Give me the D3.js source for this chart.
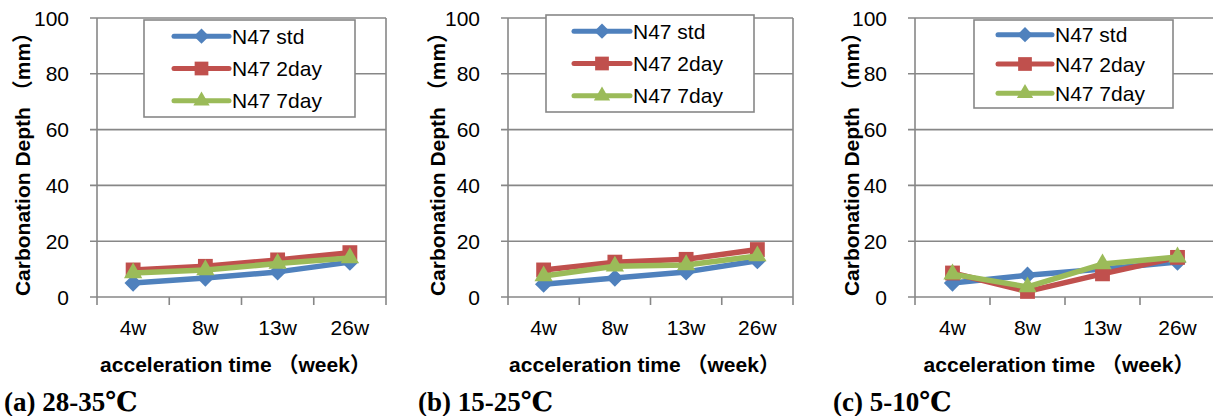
<!DOCTYPE html>
<html>
<head>
<meta charset="utf-8">
<script src="https://cdn.jsdelivr.net/npm/d3@7"></script>
<style>
  body { margin: 0; background: #fff; }
  svg { display: block; }
  text { font-family: "Liberation Sans", Arial, "Noto Sans CJK SC", sans-serif; }
  .cap { font-family: "Liberation Serif", "DejaVu Serif", "Times New Roman", serif; font-weight: bold; }
</style>
</head>
<body>
<div id="chart"></div>
<script>
const categories = ["4w", "8w", "13w", "26w"];
const seriesNames = ["N47 std", "N47 2day", "N47 7day"];
const yTicks = [0, 20, 40, 60, 80, 100];
const captions = ["(a) 28-35℃", "(b) 15-25℃", "(c) 5-10℃"];

// values (mm)
const a_std  = [5.0, 6.8, 9.0, 12.5];
const a_2day = [9.7, 11.0, 13.3, 15.9];
const a_7day = [8.6, 9.7, 12.0, 14.0];
const b_std  = [4.6, 6.8, 9.0, 13.0];
const b_2day = [9.7, 12.5, 13.5, 17.0];
const b_7day = [7.5, 11.0, 11.5, 14.7];
const c_std  = [5.0, 7.8, 10.0, 12.5];
const c_2day = [8.6, 2.0, 8.3, 14.2];
const c_7day = [8.2, 3.6, 11.8, 14.3];

const colors = ["#4F81BD", "#C0504D", "#9BBB59"];
const symbols = [d3.symbolDiamond2, d3.symbolSquare2, d3.symbolTriangle2];
const symSize = [190, 280, 240];
const legSize = [150, 240, 190];

// layout of the three panels
const panels = [
  { data: [a_std, a_2day, a_7day], left: 97, width: 289, yLab: 23, capX: 4,
    leg: { x: 144, y: 20, w: 211, h: 97, lx: 174, lw: 55 } },
  { data: [b_std, b_2day, b_7day], left: 508, width: 285, yLab: 438, capX: 418,
    leg: { x: 546, y: 15, w: 208, h: 97, lx: 574, lw: 56 } },
  { data: [c_std, c_2day, c_7day], left: 915, width: 300, yLab: 852, capX: 833,
    leg: { x: 974, y: 20, w: 199, h: 88, lx: 998, lw: 54 } }
];

const width = 1213, height = 416;
const plotTop = 18, plotBottom = 297;
const grid = "#878787";

const svg = d3.select("#chart").append("svg")
  .attr("width", width).attr("height", height);

const y = d3.scaleLinear().domain([0, 100]).range([plotBottom, plotTop]);

panels.forEach((p, pi) => {
  const g = svg.append("g");
  const x = d3.scaleBand().domain(categories).range([p.left, p.left + p.width]);
  const cx = d => x(d) + x.bandwidth() / 2;

  // gridlines + y ticks
  g.selectAll(".grid").data(yTicks).join("line")
    .attr("x1", p.left - 7).attr("x2", p.left + p.width)
    .attr("y1", d => y(d)).attr("y2", d => y(d))
    .attr("stroke", grid).attr("stroke-width", 1.6);

  g.selectAll(".ylab").data(yTicks).join("text")
    .attr("x", p.left - 28).attr("y", d => y(d))
    .attr("dy", "0.36em").attr("text-anchor", "end")
    .attr("font-size", 21).attr("fill", "#000")
    .text(d => d);

  // left axis & right border
  [p.left, p.left + p.width].forEach(xx => {
    g.append("line").attr("x1", xx).attr("x2", xx)
      .attr("y1", plotTop).attr("y2", plotBottom)
      .attr("stroke", grid).attr("stroke-width", 1.6);
  });

  // x ticks at category boundaries
  const bounds = categories.map(c => x(c)).concat([p.left + p.width]);
  g.selectAll(".xt").data(bounds).join("line")
    .attr("x1", d => d).attr("x2", d => d)
    .attr("y1", plotBottom).attr("y2", plotBottom + 8)
    .attr("stroke", grid).attr("stroke-width", 1.6);

  g.selectAll(".xlab").data(categories).join("text")
    .attr("x", cx).attr("y", 335)
    .attr("text-anchor", "middle").attr("font-size", 21)
    .text(d => d);

  // axis titles
  g.append("text")
    .attr("x", p.left + p.width / 2 - 6).attr("y", 372)
    .attr("text-anchor", "middle").attr("font-size", 21).attr("font-weight", "bold")
    .text("acceleration time （week）");

  g.append("text")
    .attr("transform", `translate(${p.yLab},159) rotate(-90)`)
    .attr("dy", "0.35em")
    .attr("text-anchor", "middle").attr("font-size", 21).attr("font-weight", "bold")
    .text("Carbonation Depth （mm）");

  // series
  const line = d3.line().x((d, i) => cx(categories[i])).y(d => y(d));
  p.data.forEach((vals, si) => {
    g.append("path").datum(vals)
      .attr("d", line).attr("fill", "none")
      .attr("stroke", colors[si]).attr("stroke-width", 5.5)
      .attr("stroke-linejoin", "round").attr("stroke-linecap", "round");
    g.selectAll(null).data(vals).join("path")
      .attr("transform", (d, i) => `translate(${cx(categories[i])},${y(d)})`)
      .attr("d", d3.symbol().type(symbols[si]).size(symSize[si]))
      .attr("fill", colors[si]);
  });

  // legend
  const L = p.leg;
  const lg = g.append("g");
  lg.append("rect").attr("x", L.x).attr("y", L.y).attr("width", L.w).attr("height", L.h)
    .attr("fill", "#fff").attr("stroke", grid).attr("stroke-width", 1.6);
  seriesNames.forEach((name, si) => {
    const ry = L.y + L.h / 6 + si * L.h / 3;
    lg.append("line").attr("x1", L.lx).attr("x2", L.lx + L.lw)
      .attr("y1", ry).attr("y2", ry)
      .attr("stroke", colors[si]).attr("stroke-width", 5).attr("stroke-linecap", "round");
    lg.append("path")
      .attr("transform", `translate(${L.lx + L.lw / 2},${ry})`)
      .attr("d", d3.symbol().type(symbols[si]).size(legSize[si]))
      .attr("fill", colors[si]);
    lg.append("text").attr("x", L.lx + L.lw + 3).attr("y", ry)
      .attr("dy", "0.36em").attr("font-size", 21).text(name);
  });

  // caption
  svg.append("text").attr("class", "cap")
    .attr("x", p.capX).attr("y", 411).attr("font-size", 27)
    .text(captions[pi]);
});
</script>
</body>
</html>
